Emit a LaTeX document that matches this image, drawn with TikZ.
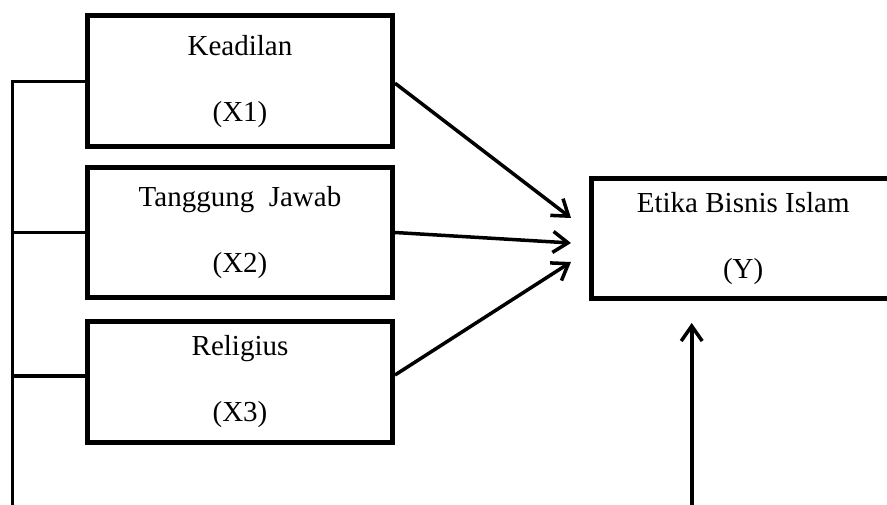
\documentclass[tikz,border=0pt]{standalone}
\usepackage{fontspec}
\setmainfont{Liberation Serif}
\usetikzlibrary{arrows.meta}
\begin{document}
\begin{tikzpicture}[x=1pt,y=-1pt,
  varbox/.style={draw=black,line width=5pt,align=center,inner sep=0pt,
    font=\fontsize{29}{66}\selectfont},
  conn/.style={draw=black,line width=3.3pt},
  arr/.style={draw=black,line width=3.5pt,-{Straight Barb[length=15pt,width=21pt,line width=3.5pt]}}]
\clip (0,0) rectangle (887,505);
\fill[white] (0,0) rectangle (887,505);
\node[varbox,minimum width=305pt,minimum height=131.5pt] (X1) at (240,81.2) {Keadilan\\(X1)};
\node[varbox,minimum width=305pt,minimum height=130pt] (X2) at (240,232.5) {Tanggung\ \ Jawab\\(X2)};
\node[varbox,minimum width=305pt,minimum height=121pt] (X3) at (240,382) {\raisebox{-4.5pt}{Religius}\\\raisebox{-4.5pt}{(X3)}};
\node[varbox,minimum width=303.5pt,minimum height=120pt] (Y) at (743.2,238.5) {\raisebox{-4pt}{Etika Bisnis Islam}\\\raisebox{-4pt}{(Y)}};
% left bracket line
\coordinate (L) at (12.7,510);
\coordinate (L3) at (12.7,376);
\draw[conn] (L) |- (X1.west);
\draw[conn] (X2.west) -- (X2.west -| L);
\draw[conn] ([yshift=6pt]X3.west) -- (L3);
% arrows into Y
\coordinate (a1) at (571,218);
\coordinate (a2) at (571,243);
\coordinate (a3) at (571,262);
\draw[arr] ([yshift=-2pt]X1.east) -- (a1);
\draw[arr] (X2.east) -- (a2);
\draw[arr] ([yshift=7pt]X3.east) -- (a3);
% vertical arrow
\coordinate (vb) at (691.7,510);
\coordinate (vt) at (691.7,323);
\draw[arr,line width=3.8pt] (vb) -- (vt);
\end{tikzpicture}
\end{document}
